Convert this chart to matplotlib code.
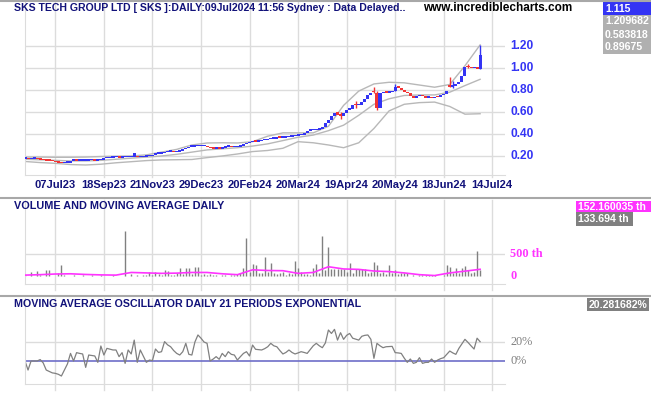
import numpy as np
import matplotlib
matplotlib.use("Agg")
import matplotlib.pyplot as plt

plt.rcParams['font.family'] = ['Liberation Sans', 'DejaVu Sans']

# %% data (bar index = trading day with a trade)
date_ticks = [10, 26, 42, 58, 74, 90, 106, 122, 138, 154]
date_labels = ['07Jul23', '18Sep23', '21Nov23', '29Dec23', '20Feb24', '20Mar24',
               '19Apr24', '20May24', '18Jun24', '14Jul24']

closes = [0.18, 0.17, 0.175, 0.175, 0.17, 0.165, 0.16, 0.157, 0.155, 0.15,
          0.145, 0.14, 0.135, 0.14, 0.14, 0.157, 0.157, 0.155, 0.155, 0.155,
          0.155, 0.16, 0.16, 0.155, 0.16, 0.165, 0.18, 0.18, 0.185, 0.19,
          0.19, 0.185, 0.19, 0.19, 0.19, 0.19, 0.225, 0.19, 0.19, 0.195,
          0.20, 0.20, 0.21, 0.22, 0.22, 0.225, 0.235, 0.24, 0.24, 0.235,
          0.24, 0.245, 0.26, 0.27, 0.285, 0.285, 0.29, 0.29, 0.29, 0.29,
          0.28, 0.27, 0.265, 0.27, 0.265, 0.275, 0.285, 0.285, 0.28, 0.28,
          0.285, 0.295, 0.305, 0.315, 0.325, 0.33, 0.33, 0.335, 0.345, 0.345,
          0.35, 0.355, 0.355, 0.36, 0.365, 0.365, 0.37, 0.375, 0.38, 0.385,
          0.39, 0.395, 0.41, 0.43, 0.435, 0.435, 0.44, 0.445, 0.46, 0.50,
          0.53, 0.56, 0.59, 0.57, 0.56, 0.59, 0.62, 0.63, 0.66, 0.66,
          0.665, 0.69, 0.72, 0.755, 0.77, 0.78, 0.64, 0.77, 0.78, 0.775,
          0.78, 0.79, 0.83, 0.82, 0.80, 0.785, 0.77, 0.745, 0.73, 0.745,
          0.755, 0.745, 0.73, 0.73, 0.725, 0.74, 0.735, 0.75, 0.765, 0.79,
          0.83, 0.835, 0.85, 0.87, 0.93, 1.01, 1.005, 1.0, 1.01, 0.995,
          1.115]
opens = [0.175, 0.18, 0.17, 0.175, 0.175, 0.17, 0.165, 0.16, 0.157, 0.155,
         0.15, 0.145, 0.14, 0.135, 0.14, 0.14, 0.157, 0.157, 0.155, 0.155,
         0.155, 0.155, 0.16, 0.16, 0.155, 0.16, 0.165, 0.18, 0.18, 0.185,
         0.19, 0.19, 0.185, 0.19, 0.19, 0.19, 0.19, 0.195, 0.19, 0.19,
         0.195, 0.20, 0.20, 0.21, 0.22, 0.22, 0.225, 0.235, 0.24, 0.24,
         0.235, 0.24, 0.245, 0.26, 0.27, 0.285, 0.285, 0.29, 0.29, 0.29,
         0.29, 0.28, 0.27, 0.265, 0.27, 0.265, 0.275, 0.285, 0.285, 0.28,
         0.28, 0.285, 0.295, 0.305, 0.315, 0.325, 0.335, 0.33, 0.335, 0.345,
         0.345, 0.35, 0.355, 0.355, 0.37, 0.365, 0.365, 0.37, 0.375, 0.38,
         0.385, 0.39, 0.395, 0.41, 0.43, 0.435, 0.435, 0.44, 0.445, 0.46,
         0.50, 0.53, 0.56, 0.60, 0.58, 0.56, 0.59, 0.62, 0.63, 0.67,
         0.66, 0.665, 0.69, 0.72, 0.755, 0.79, 0.77, 0.64, 0.77, 0.785,
         0.775, 0.78, 0.79, 0.835, 0.82, 0.80, 0.785, 0.77, 0.745, 0.73,
         0.745, 0.755, 0.745, 0.73, 0.735, 0.725, 0.74, 0.735, 0.75, 0.765,
         0.84, 0.83, 0.835, 0.85, 0.87, 0.93, 1.02, 1.01, 1.0, 1.01,
         0.995]
# bars with visible wicks: index -> (low, high)
wicks = {104: (0.54, 0.60), 109: (0.64, 0.70), 115: (0.77, 0.83), 116: (0.62, 0.79),
         122: (0.79, 0.85), 140: (0.83, 0.92), 141: (0.82, 0.88), 146: (1.0, 1.04),
         150: (0.99, 1.21)}

# bollinger bands, read every 5 bars
band_idx = [0, 5, 10, 15, 20, 25, 30, 35, 40, 45, 50, 55, 60, 65, 70, 75, 80,
            85, 90, 95, 100, 105, 110, 115, 120, 125, 130, 135, 140, 145, 150]
band_upper = [0.19, 0.19, 0.188, 0.188, 0.19, 0.195, 0.198, 0.20, 0.21, 0.235,
              0.26, 0.30, 0.318, 0.32, 0.318, 0.33, 0.38, 0.41, 0.41, 0.41,
              0.47, 0.66, 0.79, 0.855, 0.87, 0.865, 0.845, 0.825, 0.85, 1.02, 1.21]
band_mid = [0.17, 0.165, 0.16, 0.155, 0.155, 0.16, 0.17, 0.18, 0.19, 0.20,
            0.215, 0.235, 0.255, 0.265, 0.275, 0.29, 0.31, 0.34, 0.37, 0.39,
            0.43, 0.48, 0.57, 0.67, 0.72, 0.75, 0.755, 0.755, 0.78, 0.84, 0.897]
band_lower = [0.15, 0.14, 0.133, 0.122, 0.118, 0.125, 0.138, 0.148, 0.158, 0.164,
              0.166, 0.168, 0.185, 0.20, 0.218, 0.24, 0.25, 0.27, 0.33, 0.32,
              0.30, 0.275, 0.32, 0.45, 0.61, 0.67, 0.685, 0.69, 0.65, 0.58, 0.584]

# volume in thousands, one per bar
volume = [20, 10, 83, 10, 113, 15, 10, 136, 136, 10,
          5, 60, 250, 20, 10, 5, 15, 10, 5, 20,
          10, 5, 15, 10, 5, 20, 10, 5, 10, 15,
          5, 10, 5, 1020, 10, 50, 5, 15, 10, 30,
          20, 80, 15, 80, 40, 30, 136, 113, 20, 30,
          60, 175, 40, 175, 175, 40, 210, 210, 20, 40,
          30, 40, 20, 30, 10, 15, 20, 10, 30, 20,
          40, 60, 190, 870, 80, 270, 240, 60, 60, 440,
          100, 295, 60, 40, 60, 80, 30, 60, 40, 340,
          190, 80, 40, 50, 30, 190, 270, 60, 915, 136,
          665, 160, 160, 160, 160, 160, 80, 290, 60, 150,
          150, 150, 150, 60, 80, 310, 250, 60, 80, 40,
          250, 60, 130, 40, 60, 60, 60, 10, 20, 10,
          20, 20, 20, 20, 20, 20, 5, 10, 20, 250,
          210, 60, 190, 60, 175, 230, 130, 60, 100, 570,
          134]
vol_ma = [20, 30, 45, 50, 35, 25, 20, 80, 70, 60, 65, 80, 80, 50, 30, 140,
          125, 120, 60, 80, 210, 160, 150, 113, 100, 70, 30, 10, 70, 110, 152]

# moving average oscillator (%), one per bar
osc = [0, -9.5, 0, 0, 0, 1.5, -2, -9.5, -11, -12.5,
       -13, -14, -15.8, -9.5, -3, 8, 0, 8.8, 8, 7.4,
       -6.7, 6.3, 5.8, 5.3, -1.4, 15.8, 6.3, 13.3, 12.5, 11.6,
       11.6, 4.6, 8.8, -2.5, 11.6, 7.4, 22, -1.4, 11.6, 5,
       -1.4, 1, 0.5, 12.6, 9, 9.8, 20.4, 17, 15, 11,
       8, 6.3, 9.8, 18.6, 7, 6.3, 20, 27.4, 24, 20,
       18.6, 0, 2, 4.6, 1.8, 8, 4.6, 9.8, 7, 6.3,
       1, 4.6, 8, 9.8, 5.3, 16.8, 12.3, 12, 11.6, 13,
       15, 18.6, 16, 15, 11, 7.4, 9, 11.6, 9, 7.4,
       8.5, 9.8, 9, 8, 12, 16, 18.6, 16, 14, 19,
       32.6, 29, 33.3, 22, 29.8, 22.8, 27, 29, 24, 23,
       22, 26, 27, 27.4, 22.8, 2.8, 18.6, 16, 14, 15,
       15.2, 15.4, 8.8, 8.5, 8, 3, -1.4, 2.1, -2.5, -1.4,
       3.5, -2.5, -1.5, -1.4, 2.1, -1.4, 1, 2.5, 3.5, 7,
       10.5, 8.5, 7, 13.3, 18, 22.8, 19.6, 16, 12.6, 24,
       20.3]

# %% figure
W, H = 651, 395
fig = plt.figure(figsize=(W / 100, H / 100), dpi=100)
grid_c = '#dcdcdc'
navy = '#12127a'
blue = '#3434f4'
red = '#f23434'
magenta = '#ff33ff'


def px_axes(x0, y0, x1, y1):
    return fig.add_axes([x0 / W, 1 - y1 / H, (x1 - x0) / W, (y1 - y0) / H])


def style(ax, hlines, ext):
    ax.set_xlim(0, 158.2)
    for s in ['top', 'right']:
        ax.spines[s].set_visible(False)
    ax.spines['bottom'].set_color(grid_c)
    ax.spines['left'].set_color(grid_c)
    ax.set_xticks([])
    ax.set_yticks([])
    for t in date_ticks:
        ax.axvline(t, ymin=-ext, ymax=1, color=grid_c, lw=1, zorder=0, clip_on=False)
    for h in hlines:
        ax.axhline(h, color=grid_c, lw=1, zorder=0)


# price panel
ax = px_axes(25, 1, 505, 175)
ax.set_ylim(0.027, 1.609)
style(ax, [0.2, 0.4, 0.6, 0.8, 1.0, 1.2], 0.012)
ax.plot(band_idx, band_upper, color='#b8b8b8', lw=1, zorder=1)
ax.plot(band_idx, band_mid, color='#b8b8b8', lw=1, zorder=1)
ax.plot(band_idx, band_lower, color='#b8b8b8', lw=1, zorder=1)
for i, (o, c) in enumerate(zip(opens, closes)):
    col = red if o > c else blue
    if i in wicks:
        lo, hi = wicks[i]
        ax.vlines(i, lo, hi, color=col, lw=1, zorder=2)
    body = max(abs(c - o), 0.013)
    ax.bar(i, body, bottom=min(o, c), width=1.0, color=col, lw=0, zorder=3)
for t, lab in zip(date_ticks, date_labels):
    ax.text(t, -0.055, lab, transform=ax.get_xaxis_transform(), ha='center', va='center',
            color=navy, fontsize=8.0, fontweight='bold')
for v in [0.2, 0.4, 0.6, 0.8, 1.0, 1.2]:
    ax.text(1.011, v, f'{v:.2f}', transform=ax.get_yaxis_transform(), ha='left', va='center',
            color=blue, fontsize=8.6, fontweight='bold')

# volume panel
axv = px_axes(25, 200, 505, 284)
axv.set_ylim(-182, 1727)
style(axv, [500], 0.07)
axv.vlines(range(len(volume)), 0, volume, color='#808080', lw=1, zorder=2)
axv.plot(band_idx, vol_ma, color=magenta, lw=1.2, zorder=3)
for v, lab in [(500, '500 th'), (0, '0')]:
    axv.text(1.011, v, lab, transform=axv.get_yaxis_transform(), ha='left', va='center',
             color=magenta, fontsize=8.8, fontweight='bold', family='Liberation Serif')

# oscillator panel
axo = px_axes(25, 298, 505, 384)
axo.set_ylim(-24.2, 66.3)
style(axo, [20], 0.07)
axo.axhline(0, color='#6e6ec8', lw=1.2, zorder=1)
axo.plot(range(len(osc)), osc, color='#808080', lw=0.9, zorder=2)
for v, lab in [(20, '20%'), (0, '0%')]:
    axo.text(1.011, v, lab, transform=axo.get_yaxis_transform(), ha='left', va='center',
             color='#808080', fontsize=8.8, family='Liberation Serif')

# separators and headers
for y in [1, 198, 296]:
    fig.add_artist(plt.Line2D([0, 1], [1 - y / H, 1 - y / H], color='#a8a8a8', lw=1.5))
fig.text(14 / W, 1 - 8 / H, 'SKS TECH GROUP LTD [ SKS ]:DAILY:09Jul2024 11:56 Sydney : Data Delayed..',
         ha='left', va='center', color=navy, fontsize=7.6, fontweight='bold')
fig.text(423 / W, 1 - 8 / H, 'www.incrediblecharts.com', ha='left', va='center',
         color='black', fontsize=8.5, fontweight='bold')
fig.text(14 / W, 1 - 206 / H, 'VOLUME AND MOVING AVERAGE DAILY', ha='left', va='center',
         color=navy, fontsize=7.8, fontweight='bold')
fig.text(14 / W, 1 - 304 / H, 'MOVING AVERAGE OSCILLATOR DAILY 21 PERIODS EXPONENTIAL',
         ha='left', va='center', color=navy, fontsize=7.7, fontweight='bold')


# value boxes on the right
def value_box(y0, y1, x0, x1, text, bg):
    fig.patches.append(plt.Rectangle((x0 / W, 1 - y1 / H), (x1 - x0) / W, (y1 - y0) / H,
                                     transform=fig.transFigure, color=bg, lw=0))
    fig.text((x0 + 2) / W, 1 - (y0 + y1) / 2 / H, text, ha='left', va='center',
             color='white', fontsize=7.6, fontweight='bold')


value_box(2, 15, 603, 651, '1.115', '#3434f4')
value_box(15, 28, 603, 651, '1.209682', '#b0b0b0')
value_box(28, 41, 603, 651, '0.583818', '#b0b0b0')
value_box(41, 54, 603, 651, '0.89675', '#b0b0b0')
value_box(201, 212, 576, 651, '152.160035 th', magenta)
value_box(212, 226, 576, 633, '133.694 th', '#808080')
value_box(298, 311, 587, 649, '20.281682%', '#808080')

fig.savefig('out.png', dpi=100)
